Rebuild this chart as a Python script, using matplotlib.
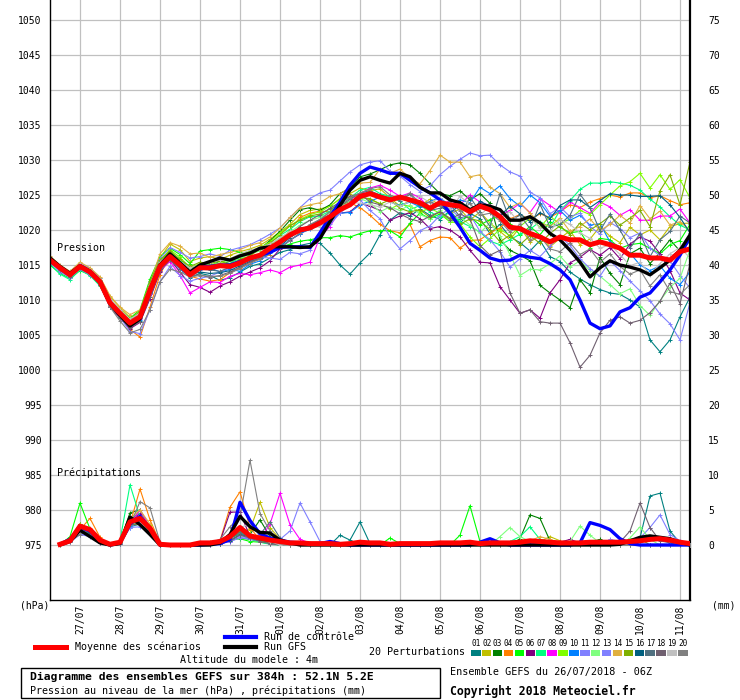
import matplotlib
matplotlib.use("Agg")
import matplotlib.pyplot as plt
from matplotlib.lines import Line2D
from matplotlib.patches import Rectangle

plt.rcParams['font.family'] = 'DejaVu Sans Mono'

W, H = 740, 700

# time axis: 6-hourly steps from 26/07 06Z (step 0) to 11/08 06Z (step 64)
steps = list(range(65))
precip_steps = list(range(1, 65))
day_steps = [3, 7, 11, 15, 19, 23, 27, 31, 35, 39, 43, 47, 51, 55, 59, 63]
day_labels = ['27/07', '28/07', '29/07', '30/07', '31/07', '01/08', '02/08', '03/08',
              '04/08', '05/08', '06/08', '07/08', '08/08', '09/08', '10/08', '11/08']

pert_names = ['01', '02', '03', '04', '05', '06', '07', '08', '09', '10',
              '11', '12', '13', '14', '15', '16', '17', '18', '19', '20']
pert_colors = ['#008080', '#c0c000', '#008000', '#ff8000', '#00ff00', '#800080', '#00ff80',
               '#ff00ff', '#80ff00', '#0080ff', '#8080ff', '#80ff80', '#8080ff', '#e0b040',
               '#80b000', '#006080', '#507080', '#706070', '#c0c0c0', '#808080']

# sea level pressure (hPa)
mean_p = [1015.7, 1014.6, 1013.6, 1014.8, 1014.0, 1012.6, 1009.6, 1008.1, 1006.7, 1007.6, 1011.4, 1014.8, 1016.2,
          1015.0, 1013.6, 1014.6, 1014.6, 1014.9, 1014.8, 1015.3, 1016.0, 1016.4, 1017.4, 1018.3, 1019.3, 1020.0,
          1020.3, 1021.0, 1021.9, 1022.9, 1023.6, 1024.8, 1025.2, 1024.7, 1024.3, 1024.7, 1024.3, 1023.9, 1023.1,
          1023.9, 1023.6, 1023.4, 1022.6, 1023.4, 1022.9, 1021.9, 1020.4, 1020.2, 1019.5, 1019.0, 1018.3, 1019.0,
          1018.6, 1018.6, 1017.9, 1018.3, 1017.9, 1017.4, 1016.4, 1016.4, 1016.0, 1016.0, 1015.7, 1016.9, 1017.3]

control_p = [1015.8, 1014.7, 1013.7, 1014.9, 1014.1, 1012.7, 1009.7, 1008.0, 1006.5, 1007.5, 1011.5, 1014.9, 1016.3,
             1015.1, 1013.8, 1014.8, 1014.8, 1015.0, 1015.0, 1015.5, 1015.9, 1016.4, 1016.8, 1017.5, 1017.6, 1017.6,
             1017.5, 1019.6, 1021.9, 1024.0, 1026.4, 1028.1, 1029.0, 1028.6, 1028.1, 1028.1, 1027.1, 1026.1, 1025.3,
             1024.3, 1022.4, 1020.4, 1018.1, 1017.1, 1016.0, 1015.6, 1015.7, 1016.4, 1016.1, 1015.9, 1015.2, 1014.3,
             1012.9, 1010.0, 1006.7, 1005.9, 1006.3, 1008.3, 1008.9, 1010.4, 1011.0, 1012.6, 1014.3, 1016.4, 1019.0]

gfs_p = [1016.0, 1014.8, 1013.8, 1014.9, 1014.1, 1012.5, 1009.5, 1007.8, 1006.3, 1007.3, 1011.5, 1015.0, 1016.6,
         1015.3, 1014.0, 1015.0, 1015.5, 1016.0, 1015.7, 1016.3, 1016.7, 1017.4, 1017.6, 1017.6, 1017.6, 1017.5,
         1017.6, 1018.8, 1021.2, 1023.5, 1025.7, 1027.1, 1027.6, 1027.1, 1026.7, 1028.1, 1027.6, 1026.1, 1025.3,
         1025.3, 1024.3, 1023.9, 1022.9, 1023.6, 1023.4, 1022.9, 1021.4, 1021.4, 1021.9, 1021.0, 1019.5, 1018.6,
         1017.1, 1015.4, 1013.3, 1014.6, 1015.6, 1015.0, 1014.7, 1014.3, 1013.6, 1014.6, 1015.7, 1017.1, 1019.3]

p01 = [1015.5, 1014.2, 1013.3, 1014.6, 1013.8, 1012.2, 1009.0, 1007.6, 1006.2, 1007.0, 1010.8, 1014.5, 1016.0,
       1014.5, 1013.2, 1013.8, 1013.5, 1012.8, 1013.2, 1014.0, 1014.8, 1015.2, 1016.0, 1016.8, 1017.2, 1017.8,
       1018.1, 1018.1, 1016.7, 1015.0, 1013.7, 1015.3, 1016.7, 1019.3, 1021.4, 1022.5, 1022.0, 1023.0, 1022.1,
       1021.5, 1022.8, 1021.0, 1022.4, 1021.6, 1019.5, 1020.8, 1019.0, 1018.2, 1017.0, 1018.5, 1016.2, 1015.5,
       1014.0, 1013.0, 1012.2, 1011.5, 1011.0, 1010.8, 1010.0, 1009.0, 1004.3, 1002.6, 1004.3, 1007.6, 1010.4]
p02 = [1016.2, 1014.9, 1014.0, 1015.2, 1014.5, 1013.2, 1010.5, 1008.9, 1007.5, 1008.0, 1012.5, 1016.0, 1018.0,
       1017.2, 1015.5, 1016.0, 1016.2, 1015.8, 1016.4, 1016.9, 1017.3, 1017.8, 1018.7, 1019.7, 1020.8, 1022.2,
       1022.8, 1023.0, 1023.4, 1024.5, 1025.2, 1026.0, 1025.6, 1025.9, 1024.6, 1023.4, 1024.2, 1023.5, 1024.4,
       1023.6, 1022.3, 1023.0, 1021.4, 1022.6, 1021.0, 1019.8, 1018.6, 1020.4, 1018.3, 1019.2, 1017.6, 1018.8,
       1019.9, 1017.9, 1018.7, 1020.5, 1019.1, 1018.2, 1020.4, 1019.3, 1020.0, 1018.6, 1020.5, 1020.9, 1021.0]
p03 = [1015.9, 1014.7, 1013.8, 1015.1, 1014.3, 1012.9, 1009.9, 1008.3, 1006.9, 1007.7, 1011.3, 1015.2, 1016.9,
       1015.6, 1014.6, 1014.9, 1014.8, 1015.6, 1015.2, 1016.3, 1016.5, 1017.3, 1018.5, 1019.8, 1021.4, 1022.9,
       1023.2, 1022.8, 1023.6, 1025.2, 1026.0, 1027.6, 1028.0, 1028.6, 1029.3, 1029.6, 1029.3, 1028.1, 1026.6,
       1025.2, 1024.9, 1025.6, 1024.3, 1025.2, 1023.8, 1018.6, 1017.1, 1016.4, 1015.6, 1012.1, 1011.0, 1010.0,
       1008.9, 1012.9, 1011.0, 1016.1, 1013.8, 1012.2, 1016.6, 1017.4, 1015.2, 1016.8, 1018.6, 1017.0, 1018.4]
p04 = [1015.6, 1014.4, 1013.4, 1014.5, 1013.7, 1012.4, 1009.2, 1007.6, 1005.8, 1004.7, 1009.0, 1013.6, 1016.4,
       1015.0, 1013.4, 1013.0, 1012.7, 1012.9, 1013.9, 1014.6, 1015.4, 1015.8, 1016.5, 1018.3, 1020.0, 1021.8,
       1022.4, 1022.7, 1022.6, 1023.0, 1023.9, 1023.2, 1022.1, 1020.8, 1019.9, 1019.6, 1020.8, 1017.6, 1018.5,
       1019.0, 1018.9, 1017.4, 1018.5, 1018.6, 1019.6, 1020.3, 1021.6, 1022.2, 1021.5, 1022.3, 1021.8, 1022.6,
       1023.6, 1023.2, 1024.0, 1024.5, 1025.0, 1024.7, 1025.3, 1025.3, 1024.6, 1024.9, 1024.2, 1023.6, 1023.9]
p05 = [1015.0, 1013.8, 1013.1, 1014.2, 1013.6, 1012.4, 1009.8, 1008.5, 1007.4, 1008.6, 1013.0, 1016.2, 1017.4,
       1016.5, 1015.2, 1017.0, 1017.2, 1017.4, 1017.2, 1016.8, 1016.4, 1016.0, 1016.8, 1017.5, 1018.0, 1018.4,
       1018.6, 1018.9, 1018.9, 1019.2, 1019.0, 1019.5, 1019.9, 1019.9, 1019.9, 1019.0, 1021.0, 1022.4, 1021.6,
       1022.3, 1021.2, 1021.6, 1021.9, 1020.7, 1021.5, 1022.0, 1020.9, 1019.3, 1020.5, 1019.3, 1021.2, 1020.4,
       1019.6, 1019.8, 1017.5, 1018.8, 1018.6, 1017.4, 1017.9, 1018.1, 1017.4, 1016.6, 1017.9, 1018.5, 1020.8]
p06 = [1015.4, 1014.3, 1013.4, 1014.5, 1013.6, 1012.1, 1009.0, 1007.4, 1005.9, 1006.8, 1010.2, 1014.0, 1015.8,
       1014.0, 1012.2, 1011.8, 1011.1, 1012.0, 1012.6, 1013.4, 1014.0, 1014.6, 1015.6, 1017.3, 1018.6, 1019.4,
       1020.4, 1021.5, 1022.6, 1022.4, 1022.6, 1023.8, 1023.4, 1022.8, 1021.4, 1022.0, 1022.5, 1021.6, 1020.2,
       1020.5, 1020.0, 1019.0, 1017.1, 1015.4, 1015.3, 1011.9, 1010.0, 1008.1, 1008.6, 1007.4, 1011.0, 1012.9,
       1015.3, 1016.1, 1017.2, 1016.4, 1017.5, 1015.9, 1018.0, 1019.0, 1018.4, 1016.6, 1014.2, 1011.0, 1010.0]
p07 = [1015.1, 1013.7, 1012.9, 1014.3, 1013.5, 1012.0, 1009.3, 1007.6, 1006.4, 1007.9, 1012.3, 1015.5, 1016.9,
       1015.8, 1014.0, 1014.5, 1014.5, 1015.0, 1015.2, 1016.0, 1016.7, 1017.4, 1018.2, 1019.2, 1020.1, 1021.2,
       1021.9, 1022.0, 1022.7, 1024.0, 1024.6, 1025.7, 1026.1, 1025.2, 1024.8, 1024.1, 1022.9, 1023.5, 1022.6,
       1021.8, 1022.5, 1021.2, 1020.5, 1019.7, 1018.4, 1017.9, 1018.6, 1019.4, 1020.1, 1021.2, 1020.4, 1022.8,
       1024.2, 1025.8, 1026.7, 1026.7, 1026.9, 1026.7, 1026.4, 1025.7, 1024.4, 1023.3, 1021.9, 1020.7, 1020.0]
p08 = [1015.8, 1014.5, 1013.7, 1014.9, 1014.0, 1012.8, 1009.9, 1008.2, 1006.6, 1007.3, 1010.9, 1014.2, 1015.5,
       1013.5, 1011.0, 1011.8, 1012.6, 1012.5, 1013.4, 1013.8, 1013.6, 1013.9, 1014.3, 1013.9, 1014.7, 1015.0,
       1015.4, 1019.0, 1020.5, 1022.8, 1024.4, 1025.0, 1026.0, 1026.4, 1025.7, 1024.8, 1025.3, 1024.6, 1023.0,
       1023.6, 1024.2, 1023.6, 1025.0, 1024.0, 1023.5, 1022.1, 1022.8, 1023.8, 1022.5, 1024.5, 1023.5, 1022.5,
       1024.0, 1023.2, 1022.4, 1024.0, 1023.3, 1022.1, 1022.9, 1021.4, 1021.4, 1022.0, 1022.0, 1023.0, 1021.0]
p09 = [1015.9, 1014.8, 1013.9, 1015.0, 1014.2, 1012.8, 1009.8, 1008.4, 1007.0, 1008.0, 1012.0, 1015.6, 1017.2,
       1016.1, 1014.6, 1015.2, 1015.0, 1015.3, 1015.9, 1016.4, 1017.0, 1017.5, 1018.3, 1019.6, 1020.6, 1021.5,
       1022.2, 1022.6, 1023.4, 1024.4, 1024.7, 1024.9, 1024.3, 1023.8, 1023.0, 1023.7, 1023.4, 1022.6, 1023.1,
       1022.4, 1021.2, 1020.9, 1019.0, 1017.6, 1018.8, 1020.1, 1019.2, 1020.5, 1021.7, 1020.4, 1022.0, 1020.8,
       1021.6, 1022.8, 1022.2, 1023.6, 1025.0, 1026.3, 1026.9, 1028.1, 1026.0, 1027.9, 1025.8, 1027.2, 1024.6]
p10 = [1016.0, 1014.6, 1013.5, 1014.7, 1013.9, 1012.7, 1009.5, 1008.0, 1006.3, 1007.2, 1011.2, 1014.6, 1015.9,
       1014.4, 1013.3, 1014.3, 1014.6, 1014.0, 1014.4, 1014.1, 1015.1, 1015.6, 1016.7, 1017.6, 1018.5, 1019.5,
       1020.1, 1020.8, 1021.2, 1022.4, 1022.5, 1023.6, 1024.1, 1024.7, 1024.0, 1023.5, 1024.0, 1023.3, 1024.1,
       1024.6, 1023.5, 1024.3, 1023.9, 1026.1, 1025.2, 1026.3, 1024.5, 1023.4, 1025.0, 1023.9, 1022.0, 1022.8,
       1021.4, 1022.1, 1020.7, 1020.9, 1018.3, 1017.5, 1016.7, 1015.0, 1014.2, 1014.9, 1013.1, 1012.2, 1014.0]
p11 = [1016.1, 1014.9, 1013.9, 1015.3, 1014.5, 1013.1, 1010.0, 1008.6, 1007.0, 1008.2, 1012.6, 1015.9, 1017.5,
       1016.8, 1016.0, 1016.2, 1016.6, 1016.2, 1017.1, 1017.5, 1017.9, 1018.6, 1019.4, 1020.3, 1021.8, 1023.2,
       1024.5, 1025.3, 1025.7, 1027.0, 1028.3, 1029.3, 1029.7, 1029.9, 1028.4, 1027.7, 1026.5, 1025.5, 1026.3,
       1027.9, 1029.1, 1030.1, 1031.0, 1030.6, 1030.7, 1029.3, 1028.3, 1027.7, 1025.4, 1024.6, 1022.3, 1023.3,
       1021.9, 1022.4, 1020.5, 1019.4, 1021.1, 1020.2, 1018.9, 1019.6, 1017.4, 1016.3, 1015.6, 1013.5, 1011.7]
p12 = [1015.7, 1014.5, 1013.5, 1014.8, 1013.9, 1012.6, 1009.7, 1008.2, 1006.8, 1007.8, 1011.8, 1015.3, 1016.8,
       1015.2, 1014.1, 1014.7, 1015.4, 1015.2, 1015.6, 1015.9, 1016.6, 1017.0, 1017.9, 1018.8, 1019.7, 1020.7,
       1021.4, 1021.8, 1022.5, 1023.2, 1024.2, 1024.5, 1023.9, 1022.6, 1023.3, 1022.8, 1023.6, 1022.2, 1021.6,
       1022.9, 1021.3, 1021.9, 1020.7, 1019.6, 1021.0, 1019.2, 1016.5, 1013.5, 1014.4, 1014.3, 1015.2, 1016.3,
       1014.7, 1015.6, 1014.2, 1013.4, 1012.2, 1010.9, 1011.6, 1009.2, 1007.8, 1009.9, 1011.8, 1013.1, 1017.2]
p13 = [1015.3, 1014.0, 1013.2, 1014.4, 1013.6, 1012.3, 1009.3, 1007.5, 1005.5, 1005.2, 1008.6, 1012.6, 1014.8,
       1013.5, 1012.7, 1013.1, 1013.4, 1014.0, 1014.6, 1015.3, 1015.6, 1016.1, 1016.0, 1015.8, 1016.8, 1016.6,
       1017.1, 1019.4, 1020.8, 1022.4, 1023.7, 1024.3, 1022.8, 1021.6, 1019.0, 1017.3, 1018.5, 1019.9, 1020.6,
       1022.1, 1023.1, 1021.7, 1022.2, 1019.8, 1018.6, 1016.9, 1014.7, 1015.9, 1017.1, 1016.2, 1017.7, 1019.1,
       1017.8, 1015.9, 1014.5, 1013.4, 1015.6, 1014.2, 1012.7, 1011.3, 1009.9, 1008.0, 1006.6, 1004.3, 1009.6]
p14 = [1016.3, 1015.0, 1014.1, 1015.4, 1014.6, 1013.3, 1010.6, 1009.0, 1007.9, 1008.6, 1012.4, 1016.6, 1018.2,
       1017.7, 1016.6, 1016.7, 1016.1, 1016.5, 1016.8, 1017.2, 1017.8, 1018.2, 1019.0, 1020.3, 1021.8, 1023.2,
       1023.6, 1023.9, 1024.8, 1025.2, 1026.0, 1026.7, 1026.8, 1028.7, 1028.1, 1028.7, 1027.4, 1026.6, 1028.5,
       1030.7, 1029.7, 1029.7, 1027.6, 1027.9, 1026.1, 1025.2, 1023.2, 1023.9, 1022.4, 1021.0, 1020.5, 1021.7,
       1019.8, 1020.5, 1021.6, 1019.9, 1020.8, 1022.1, 1021.0, 1023.5, 1021.6, 1022.7, 1020.7, 1021.2, 1019.9]
p15 = [1016.0, 1014.7, 1013.6, 1014.9, 1014.2, 1012.9, 1010.1, 1008.5, 1007.2, 1008.4, 1012.7, 1015.7, 1017.0,
       1015.8, 1014.8, 1015.4, 1015.2, 1015.6, 1015.0, 1015.8, 1016.3, 1017.3, 1018.1, 1019.3, 1020.6, 1021.4,
       1022.0, 1022.3, 1023.0, 1023.6, 1024.0, 1024.6, 1024.5, 1023.7, 1024.3, 1023.1, 1022.6, 1022.9, 1021.8,
       1022.6, 1021.7, 1020.8, 1021.6, 1021.3, 1020.0, 1018.3, 1019.3, 1017.9, 1019.2, 1018.1, 1019.5, 1020.6,
       1019.3, 1021.0, 1020.0, 1020.9, 1022.0, 1020.7, 1021.7, 1022.8, 1020.5, 1025.6, 1027.9, 1023.6, 1029.7]
p16 = [1015.8, 1014.6, 1013.7, 1014.8, 1014.1, 1012.7, 1009.6, 1008.0, 1006.5, 1007.4, 1011.0, 1014.4, 1015.9,
       1014.8, 1013.6, 1014.0, 1013.8, 1013.9, 1014.2, 1014.9, 1015.5, 1015.9, 1016.9, 1017.7, 1018.9, 1019.9,
       1020.6, 1021.2, 1022.0, 1023.0, 1024.0, 1024.9, 1025.3, 1025.0, 1024.4, 1024.9, 1024.2, 1023.6, 1024.0,
       1023.5, 1022.4, 1023.6, 1022.3, 1024.1, 1023.4, 1022.0, 1023.4, 1022.3, 1021.2, 1022.5, 1021.6, 1023.5,
       1024.3, 1024.3, 1023.2, 1024.2, 1025.2, 1025.0, 1025.0, 1024.8, 1024.8, 1024.9, 1023.6, 1021.8, 1019.6]
p17 = [1015.6, 1014.4, 1013.5, 1014.7, 1013.9, 1012.5, 1009.4, 1007.9, 1006.5, 1007.5, 1011.1, 1014.5, 1016.0,
       1014.9, 1013.8, 1014.4, 1014.3, 1014.1, 1014.7, 1015.3, 1015.7, 1016.2, 1017.0, 1018.0, 1019.1, 1020.0,
       1020.7, 1021.5, 1022.2, 1023.4, 1024.4, 1025.3, 1025.6, 1025.0, 1024.6, 1024.2, 1025.1, 1023.6, 1022.8,
       1023.1, 1023.7, 1021.9, 1024.7, 1022.6, 1020.5, 1025.2, 1021.4, 1022.1, 1020.2, 1023.7, 1020.4, 1020.8,
       1022.1, 1025.1, 1023.2, 1019.9, 1022.3, 1020.0, 1017.4, 1019.5, 1016.2, 1018.6, 1019.8, 1022.0, 1021.0]
p18 = [1015.5, 1014.3, 1013.3, 1014.6, 1013.8, 1012.3, 1009.1, 1007.5, 1006.0, 1006.9, 1010.4, 1014.2, 1015.7,
       1014.5, 1013.5, 1013.6, 1013.2, 1013.5, 1014.0, 1014.7, 1015.4, 1016.0, 1016.9, 1018.0, 1019.3, 1020.5,
       1021.4, 1022.2, 1023.1, 1024.0, 1024.8, 1025.2, 1024.0, 1023.6, 1023.2, 1022.3, 1021.6, 1021.2, 1022.0,
       1022.6, 1021.5, 1022.3, 1021.6, 1017.8, 1016.4, 1017.1, 1011.0, 1008.1, 1008.6, 1006.9, 1006.7, 1006.7,
       1003.9, 1000.4, 1002.1, 1005.3, 1007.1, 1007.6, 1006.7, 1007.1, 1008.2, 1009.8, 1012.4, 1009.5, 1015.2]
p19 = [1016.1, 1014.9, 1013.9, 1015.1, 1014.3, 1012.9, 1010.2, 1008.6, 1007.3, 1008.1, 1012.1, 1015.4, 1016.6,
       1015.5, 1014.6, 1015.0, 1015.4, 1015.7, 1015.9, 1016.6, 1017.1, 1017.5, 1018.0, 1018.9, 1019.8, 1020.0,
       1020.3, 1020.5, 1021.8, 1023.2, 1024.0, 1023.8, 1023.6, 1023.3, 1024.0, 1023.4, 1024.1, 1024.8, 1023.9,
       1024.6, 1023.0, 1024.8, 1023.7, 1022.1, 1023.4, 1021.6, 1022.6, 1021.0, 1021.8, 1020.3, 1019.8, 1021.5,
       1020.8, 1019.6, 1018.8, 1017.4, 1017.9, 1016.5, 1014.9, 1015.4, 1013.6, 1015.2, 1016.6, 1017.5, 1016.0]
p20 = [1015.6, 1014.5, 1013.7, 1014.9, 1014.2, 1012.6, 1009.0, 1007.0, 1005.3, 1005.8, 1008.6, 1012.6, 1014.4,
       1014.0, 1013.3, 1013.5, 1013.4, 1013.4, 1013.8, 1014.5, 1015.2, 1015.9, 1016.8, 1017.4, 1018.5, 1019.6,
       1020.8, 1021.5, 1022.6, 1023.5, 1024.6, 1025.3, 1025.9, 1026.2, 1025.0, 1024.4, 1025.3, 1023.8, 1024.0,
       1023.4, 1024.1, 1022.7, 1023.8, 1022.1, 1022.4, 1021.3, 1019.7, 1020.8, 1018.6, 1019.1, 1017.3, 1016.9,
       1018.2, 1016.5, 1017.3, 1015.4, 1016.6, 1014.8, 1013.7, 1014.3, 1012.0, 1013.6, 1011.2, 1010.8, 1012.2]
pert_p = [p01, p02, p03, p04, p05, p06, p07, p08, p09, p10,
          p11, p12, p13, p14, p15, p16, p17, p18, p19, p20]

# 6-hourly precipitation (mm), steps 1..64
mean_r = [0.1, 0.6, 2.7, 2.2, 0.7, 0.1, 0.4, 3.3, 3.8, 2.4, 0.1,
          0, 0, 0, 0.3, 0.3, 0.5, 1.2, 2.5, 1.3, 1.0, 0.7,
          0.5, 0.3, 0.3, 0.2, 0.2, 0.2, 0.1, 0.2, 0.4, 0.3, 0.3,
          0.1, 0.2, 0.2, 0.2, 0.2, 0.3, 0.3, 0.3, 0.4, 0.2, 0.3,
          0.3, 0.3, 0.4, 0.6, 0.5, 0.4, 0.3, 0.3, 0.3, 0.4, 0.4,
          0.4, 0.4, 0.5, 0.6, 0.8, 0.9, 0.7, 0.4, 0.2]
control_r = [0.1, 0.8, 2.5, 2.0, 0.5, 0, 0.3, 3.0, 4.1, 2.3, 0,
             0, 0, 0, 0, 0.1, 0.2, 0.8, 6.1, 3.5, 1.6, 1.0,
             0.7, 0.4, 0.3, 0.2, 0.2, 0.5, 0.2, 0, 0, 0, 0,
             0, 0, 0, 0, 0, 0, 0, 0, 0, 0.4, 0.9,
             0.3, 0, 0, 0, 0, 0, 0, 0, 0.3, 3.2, 2.8,
             2.2, 0.9, 0.2, 0, 0, 0, 0, 0, 0]
gfs_r = [0, 0.5, 2.1, 1.2, 0.3, 0, 0.2, 4.0, 2.9, 1.5, 0,
         0, 0, 0, 0, 0, 0.3, 1.5, 4.1, 2.6, 1.8, 1.7,
         0.7, 0.3, 0, 0, 0, 0, 0, 0, 0, 0, 0,
         0, 0, 0, 0, 0, 0, 0, 0, 0, 0, 0,
         0, 0, 0, 0, 0, 0, 0, 0, 0, 0, 0,
         0, 0.1, 0.6, 1.1, 1.3, 1.1, 0.9, 0.4, 0]

r01 = [0.1, 0.9, 2.5, 1.6, 0.4, 0, 0.2, 2.6, 3.0, 1.8, 0.2,
       0, 0, 0, 0, 0, 0.2, 0.6, 1.0, 0.8, 0.5, 0.3,
       0.2, 0, 0, 0, 0, 0, 1.4, 0.7, 3.3, 0.2, 0,
       0, 0, 0, 0, 0, 0, 0, 0, 0, 0, 0,
       0, 0, 0, 0, 0, 0, 0, 0, 0, 0, 0,
       0, 0, 0, 1.0, 7.0, 7.4, 2.0, 0.3, 0]
r02 = [0, 0.7, 3.0, 1.8, 0.5, 0, 0.3, 3.8, 4.1, 2.0, 0.1,
       0, 0, 0, 0, 0.4, 0.3, 0.9, 2.0, 2.2, 6.1, 2.5,
       0.8, 0.3, 0, 0, 0, 0, 0, 0, 0, 0, 0,
       0, 0, 0, 0, 0, 0, 0, 0, 0, 0, 0,
       0, 0, 0, 0, 0.5, 1.2, 0.6, 0, 0, 0, 0,
       0, 0, 0, 0, 0, 0, 0, 0, 0]
r03 = [0.2, 1.0, 2.0, 2.2, 0.6, 0, 0.5, 4.6, 5.0, 2.5, 0,
       0, 0, 0, 0, 0.2, 0.4, 0.9, 1.6, 1.5, 3.6, 1.2,
       0.5, 0.2, 0, 0, 0, 0, 0, 0, 0, 0, 0,
       0, 0, 0, 0, 0, 0, 0, 0, 0, 0, 0,
       0, 0, 0.9, 4.3, 3.8, 0.6, 0, 0, 0, 0.4, 0.8,
       0, 0, 0, 0, 0, 0, 0, 0, 0]
r04 = [0.1, 0.5, 2.2, 3.8, 1.1, 0, 0.2, 3.0, 8.0, 3.6, 0.3,
       0, 0, 0, 0, 0.3, 0.6, 5.4, 7.6, 2.5, 0.7, 0.3,
       0, 0, 0, 0, 0, 0, 0, 0, 0, 0, 0,
       0, 0, 0, 0, 0, 0, 0, 0, 0, 0, 0,
       0, 0, 0, 0, 0, 0, 0, 0, 0, 0, 0,
       0, 0, 0, 0, 0, 0, 0, 0, 0]
r05 = [0, 1.2, 6.0, 2.3, 0.4, 0, 0.4, 3.2, 5.0, 2.2, 0,
       0, 0, 0, 0, 0.2, 0.4, 0.8, 0.9, 0.5, 0.4, 0.2,
       0, 0, 0, 0, 0, 0, 0, 0, 0, 0, 0,
       1.0, 0.2, 0, 0, 0, 0, 0, 1.4, 5.6, 0.5, 0,
       0, 0, 0, 0, 0, 0, 0, 0, 0, 0, 0,
       0, 0, 0, 0, 0, 0, 0, 0, 0]
r06 = [0.2, 1.0, 3.0, 1.7, 0.3, 0, 0.4, 3.5, 4.5, 2.0, 0,
       0, 0, 0, 0, 0.2, 0.5, 4.7, 4.7, 1.2, 0.6, 0.3,
       0, 0, 0, 0, 0, 0, 0, 0, 0, 0, 0,
       0, 0, 0, 0, 0, 0, 0, 0, 0, 0, 0,
       0, 0, 0, 0, 0, 0, 0.4, 0.8, 0.3, 0, 0,
       0, 0, 0, 0, 0, 0, 0, 0, 0]
r07 = [0, 0.8, 2.0, 1.5, 0.4, 0, 0.6, 8.6, 4.0, 1.8, 0,
       0, 0, 0, 0, 0.1, 0.3, 0.7, 1.5, 1.0, 0.4, 0.1,
       0, 0, 0, 0, 0, 0, 0, 0, 0, 0, 0,
       0, 0, 0, 0, 0, 0, 0, 0, 0, 0, 0,
       0, 0.5, 1.2, 2.6, 0.8, 0.3, 0, 0, 0, 0, 0,
       0, 0, 0, 0, 0, 0, 0, 0, 0]
r08 = [0.1, 0.6, 2.5, 2.0, 0.5, 0, 0.3, 3.0, 5.0, 2.5, 0,
       0, 0, 0, 0, 0, 0.2, 0.5, 1.5, 1.0, 0.8, 3.0,
       7.4, 2.9, 0.8, 0.3, 0, 0, 0, 0, 0, 0, 0,
       0, 0, 0, 0, 0, 0, 0, 0, 0, 0, 0,
       0, 0, 0, 0, 0, 0, 0, 0, 0, 0, 0,
       0, 0, 0, 0, 0, 0, 0, 0, 0]
r09 = [0, 0.8, 3.0, 2.0, 0.6, 0, 0.4, 3.2, 3.8, 2.8, 0.2,
       0, 0, 0, 0, 0.3, 0.2, 1.0, 2.0, 1.6, 0.8, 0.4,
       0.2, 0, 0, 0, 0, 0, 0, 0, 0, 0, 0,
       0, 0, 0, 0, 0, 0, 0, 0, 0, 0, 0,
       0, 0, 0, 0, 0, 0, 0, 0, 0, 0, 0,
       0, 0, 0, 0, 0, 0, 0, 0, 0]
r10 = [0.1, 0.9, 2.0, 1.8, 0.5, 0, 0.2, 2.5, 3.5, 2.2, 0.1,
       0, 0, 0, 0, 0.1, 0.3, 1.1, 2.0, 1.4, 0.6, 0.4,
       0.3, 0, 0, 0, 0, 0, 0, 0, 0, 0, 0,
       0, 0, 0, 0, 0, 0, 0, 0, 0, 0, 0,
       0, 0, 0, 0, 0, 0, 0, 0, 0, 0, 0,
       0, 0, 0, 0, 0, 0, 0, 0, 0]
r11 = [0, 0.4, 1.5, 1.4, 0.5, 0, 0.1, 2.5, 2.6, 1.8, 0,
       0, 0, 0, 0, 0.2, 0.4, 0.8, 1.2, 1.0, 0.6, 0.5,
       0.8, 2.0, 6.0, 3.3, 0.5, 0, 0, 0, 0, 0, 0,
       0, 0, 0, 0, 0, 0, 0, 0, 0, 0, 0,
       0, 0, 0, 0, 0, 0, 0, 0, 0, 0, 0,
       0.8, 0.5, 0.3, 1.0, 2.5, 4.3, 1.5, 0.6, 0]
r12 = [0.1, 0.7, 2.0, 1.9, 0.6, 0, 0.3, 3.0, 3.2, 2.1, 0.1,
       0, 0, 0, 0, 0.2, 0.3, 0.8, 1.5, 1.2, 0.5, 0.3,
       0, 0, 0, 0, 0, 0, 0, 0, 0, 0, 0,
       0, 0, 0, 0, 0, 0, 0, 0, 0, 0, 0,
       1.2, 2.5, 1.2, 0.5, 0, 0, 0, 0.5, 2.7, 1.4, 0.3,
       0, 0, 1.0, 2.6, 0.8, 0, 0, 0, 0]
r13 = [0, 0.5, 1.5, 1.2, 0.3, 0, 0.2, 2.8, 3.0, 1.6, 0,
       0, 0, 0, 0, 0, 0.2, 0.5, 1.0, 0.9, 0.5, 0.2,
       0, 0, 0, 0, 0, 0, 0, 0, 0, 0, 0,
       0, 0, 0, 0, 0, 0, 0, 0, 0, 0, 0,
       0, 0, 0, 0, 0, 0, 0, 0, 0, 0, 0,
       0, 0.5, 0, 0, 0, 0, 0, 0, 0]
r14 = [0.1, 0.8, 2.5, 2.4, 0.8, 0, 0.4, 3.8, 5.0, 3.0, 0.2,
       0, 0, 0, 0, 0.3, 0.5, 1.0, 2.0, 1.5, 1.0, 0.5,
       0, 0, 0, 0, 0, 0, 0, 0, 0, 0, 0,
       0, 0, 0, 0, 0, 0, 0, 0, 0, 0, 0,
       0, 0, 0, 0.6, 1.2, 0.8, 0.2, 0, 0, 0, 0,
       0, 0, 0, 0, 0, 0, 0, 0, 0]
r15 = [0, 0.6, 2.0, 1.6, 0.4, 0, 0.3, 2.9, 3.0, 1.9, 0,
       0, 0, 0, 0, 0.2, 0.3, 0.9, 2.0, 1.2, 0.5, 0.3,
       0, 0, 0, 0, 0, 0, 0, 0, 0, 0, 0,
       0, 0, 0, 0, 0, 0, 0, 0, 0, 0, 0,
       0, 0, 0, 0, 0, 0, 0, 0, 0, 0, 0,
       0, 0, 0.5, 0.9, 0, 0, 0, 0, 0]
r16 = [0.1, 0.8, 2.5, 1.7, 0.4, 0, 0.3, 3.6, 4.0, 2.2, 0,
       0, 0, 0, 0, 0.1, 0.2, 0.6, 1.5, 1.2, 0.7, 0.4,
       0, 0, 0, 0, 0, 0, 0, 0, 0, 0, 0,
       0, 0, 0, 0, 0, 0, 0, 0, 0, 0, 0,
       0, 0, 0, 0, 0, 0, 0, 0, 0, 0, 0,
       0, 0, 0, 0, 0, 0, 0, 0, 0]
r17 = [0.2, 0.9, 2.0, 1.5, 0.4, 0, 0.3, 3.5, 3.3, 1.7, 0,
       0, 0, 0, 0, 0.1, 0.4, 0.9, 1.8, 1.0, 1.5, 3.3,
       1.0, 0.3, 0, 0, 0, 0, 0, 0, 0, 0, 0,
       0, 0, 0, 0, 0, 0, 0, 0, 0, 0, 0,
       0, 0, 0, 0, 0, 0, 0, 0, 0, 0, 0,
       0, 0, 0, 0, 0, 0, 0, 0, 0]
r18 = [0.1, 0.6, 2.0, 1.4, 0.3, 0, 0.2, 3.0, 3.0, 1.7, 0,
       0, 0, 0, 0, 0.1, 0.2, 0.7, 1.4, 1.0, 0.5, 0.2,
       0, 0, 0, 0, 0, 0, 0, 0, 0, 0, 0,
       0, 0, 0, 0, 0, 0, 0, 0, 0, 0, 0,
       0, 0, 0, 0, 0, 0, 0, 0, 0, 0, 0,
       0, 0.4, 2.0, 6.0, 2.5, 0.6, 0.3, 0, 0]
r19 = [0, 0.7, 2.0, 2.1, 0.7, 0, 0.3, 3.3, 3.1, 2.3, 0.1,
       0, 0, 0, 0, 0.3, 0.5, 1.2, 2.5, 3.0, 1.2, 0.5,
       0, 0, 0, 0, 0, 0, 0, 0, 0, 0, 0,
       0, 0, 0, 0, 0, 0, 0, 0, 0, 0, 0,
       0, 0, 0, 0, 0, 0, 0, 0, 0, 0, 0,
       0, 0, 0, 0, 0, 0, 0, 0, 0]
r20 = [0.1, 0.5, 1.5, 2.2, 0.9, 0, 0.3, 2.8, 6.2, 5.3, 0.4,
       0, 0, 0, 0, 0.3, 0.8, 2.6, 4.0, 12.1, 4.5, 2.0,
       0.5, 0, 0, 0, 0, 0, 0, 0, 0, 0, 0,
       0, 0, 0, 0, 0, 0, 0, 0, 0, 0, 0,
       0, 0, 0, 0, 0, 0, 0, 0, 0, 0, 0,
       0, 0, 0, 0, 0, 0, 0, 0, 0]
pert_r = [r01, r02, r03, r04, r05, r06, r07, r08, r09, r10,
          r11, r12, r13, r14, r15, r16, r17, r18, r19, r20]

p_ticks = list(range(975, 1051, 5))
r_ticks = list(range(0, 76, 5))


def fx(px):
    return px / W


def fy(py):
    return 1 - py / H


fig = plt.figure(figsize=(W / 100, H / 100), dpi=100)
ax = fig.add_axes([fx(50), 1 - 600 / H, 640 / W, 600 / H])
ax.set_xlim(0, 64)
ax.set_ylim(975 - 55 / 7, 1050 + 20 / 7)

ax.set_yticks(p_ticks)
ax.set_yticklabels([str(v) for v in p_ticks], fontsize=7)
ax.set_xticks(day_steps)
ax.set_xticklabels(day_labels, rotation=90, fontsize=7)
ax.tick_params(length=0)
ax.tick_params(axis='y', pad=6)
ax.tick_params(axis='x', pad=3)
ax.grid(True, color='#c0c0c0', lw=0.9)
ax.set_axisbelow(True)
for s in ['top']:
    ax.spines[s].set_visible(False)
ax.spines['left'].set_linewidth(1.0)
ax.spines['bottom'].set_linewidth(1.0)
ax.spines['right'].set_linewidth(1.6)

# pressure
for vals, c in zip(pert_p, pert_colors):
    ax.plot(steps, vals, color=c, lw=0.8, marker='+', ms=3, mew=0.7)
ax.plot(steps, control_p, color='#0000ff', lw=2.4)
ax.plot(steps, gfs_p, color='#000000', lw=2.4)
ax.plot(steps, mean_p, color='#ff0000', lw=3.6)

# precipitation on the mm scale
ax2 = ax.twinx()
ax2.set_ylim(-55 / 7, 75 + 20 / 7)
ax2.set_yticks(r_ticks)
ax2.set_yticklabels([str(v) for v in r_ticks], fontsize=7)
ax2.tick_params(length=0, pad=13)
for s in ['top', 'left', 'bottom', 'right']:
    ax2.spines[s].set_visible(False)
for vals, c in zip(pert_r, pert_colors):
    ax2.plot(precip_steps, vals, color=c, lw=0.8, marker='+', ms=3, mew=0.7)
ax2.plot(precip_steps, control_r, color='#0000ff', lw=2.4)
ax2.plot(precip_steps, gfs_r, color='#000000', lw=2.4)
ax2.plot(precip_steps, mean_r, color='#ff0000', lw=3.6)

ax.text(0.7, 1016.7, 'Pression', fontsize=7.2, va='bottom')
ax.text(0.7, 984.6, 'Précipitations', fontsize=7.2, va='bottom')

fig.text(fx(20), fy(606), '(hPa)', fontsize=7, va='center')
fig.text(fx(712), fy(606), '(mm)', fontsize=7, va='center')

# legend
fig.add_artist(Line2D([fx(35), fx(66)], [fy(647), fy(647)], color='#ff0000', lw=3.6))
fig.text(fx(75), fy(647), 'Moyenne des scénarios', fontsize=7.2, va='center')
fig.add_artist(Line2D([fx(225), fx(256)], [fy(637), fy(637)], color='#0000ff', lw=3.0))
fig.text(fx(264), fy(637), 'Run de contrôle', fontsize=7.2, va='center')
fig.add_artist(Line2D([fx(225), fx(256)], [fy(647), fy(647)], color='#000000', lw=3.0))
fig.text(fx(264), fy(647), 'Run GFS', fontsize=7.2, va='center')
fig.text(fx(180), fy(660), 'Altitude du modele : 4m', fontsize=7.2, va='center')

fig.text(fx(369), fy(652), '20 Perturbations', fontsize=7.2, va='center')
sq_w = 10.9
for k, (name, c) in enumerate(zip(pert_names, pert_colors)):
    x0 = 471 + k * sq_w
    fig.add_artist(Rectangle((fx(x0), fy(656)), 9.5 / W, 6.5 / H, facecolor=c,
                             edgecolor='none', transform=fig.transFigure))
    fig.text(fx(x0 + 4.8), fy(643), name, fontsize=5.6, ha='center', va='center')

fig.add_artist(Rectangle((fx(21), fy(698)), 419 / W, 30 / H, facecolor='none',
                         edgecolor='black', lw=1.0, transform=fig.transFigure))
fig.text(fx(30), fy(677), 'Diagramme des ensembles GEFS sur 384h : 52.1N 5.2E',
         fontsize=8.2, fontweight='bold', va='center')
fig.text(fx(30), fy(691), 'Pression au niveau de la mer (hPa) , précipitations (mm)',
         fontsize=7.2, va='center')
fig.text(fx(450), fy(672), 'Ensemble GEFS du 26/07/2018 - 06Z', fontsize=7.3, va='center')
fig.text(fx(450), fy(691), 'Copyright 2018 Meteociel.fr', fontsize=8.3,
         fontweight='bold', va='center')

fig.savefig('out.png', dpi=100)
